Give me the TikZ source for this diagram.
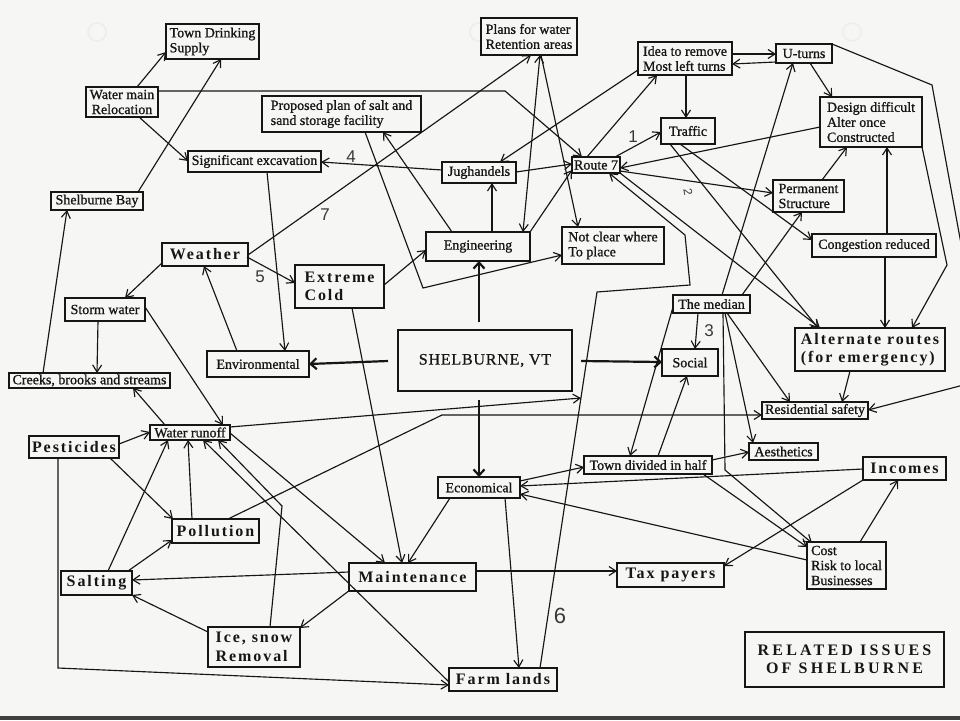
\documentclass[tikz,border=0pt]{standalone}
\usepackage{fontspec}
\setmainfont{Liberation Serif}
\newfontfamily\rfont[FakeBold=1]{Liberation Serif}
\newfontfamily\bsp[LetterSpace=12]{Liberation Serif}
\newfontfamily\bwide[LetterSpace=20]{Liberation Serif}
\newfontfamily\capsp[LetterSpace=5,FakeBold=0.8]{Liberation Serif}
\newfontfamily\hand{Liberation Sans}
\usetikzlibrary{arrows.meta}
\definecolor{ink}{HTML}{161616}
\definecolor{paper}{HTML}{F6F6F4}
\tikzset{
  bx/.style={draw=ink, line width=1.3pt, fill=paper, inner sep=0pt, outer sep=0pt,
    anchor=north west, align=left, text=ink, font=\rfont\fontsize{14}{15}\selectfont},
  bb/.style={bx, font=\bsp\bfseries\fontsize{16}{18.5}\selectfont},
  ln/.style={draw=ink, line width=1.15pt, -{Straight Barb[length=7pt,width=9pt]}},
  lnb/.style={draw=ink, line width=1.15pt, {Straight Barb[length=7pt,width=9pt]}-{Straight Barb[length=7pt,width=9pt]}},
  tk/.style={draw=ink, line width=2.2pt, -{Straight Barb[length=6pt,width=11pt,line width=2.2pt]}},
  hd/.style={text=ink!85, inner sep=0pt, font=\hand\fontsize{17}{17}\selectfont}
}
\begin{document}
\begin{tikzpicture}[x=1pt,y=-1pt]
\useasboundingbox (0,0) rectangle (960,720);
\fill[paper] (0,0) rectangle (960,720);
\fill[black!75] (0,716) rectangle (960,720);
\foreach \c in {(97,32),(479,32),(852,32)} \draw[black!7, line width=1.5pt] \c circle (9);

% nodes
\node[bx, minimum width=93pt, minimum height=35pt] (TD) at (166,24) {Town Drinking\\Supply};
\node[bx, align=center, minimum width=72pt, minimum height=30pt] (WM) at (86,87) {Water main\\Relocation};
\node[bx, minimum width=159pt, minimum height=36pt] (PP) at (262,96) {Proposed plan of salt and\\sand storage facility};
\node[bx, minimum width=133pt, minimum height=21pt] (SE) at (188,151) {Significant excavation};
\node[bx, minimum width=92pt, minimum height=18pt] (SB) at (51,192) {Shelburne Bay};
\node[bx, minimum width=96pt, minimum height=37pt] (PW) at (481,18) {Plans for water\\Retention areas};
\node[bx, minimum width=74pt, minimum height=21pt] (JU) at (442,162) {Jughandels};
\node[bx, minimum width=48pt, minimum height=16pt] (R7) at (572,157) {Route 7};
\node[bx, minimum width=104pt, minimum height=29pt] (EN) at (426,232) {Engineering};
\node[bx, minimum width=102pt, minimum height=37pt] (NC) at (562,227) {Not clear where\\To place};
\node[bx, minimum width=94pt, minimum height=33pt] (ID) at (638,42) {Idea to remove\\Most left turns};
\node[bx, minimum width=56pt, minimum height=19pt] (UT) at (776,44) {U-turns};
\node[bx, minimum width=102pt, minimum height=50pt] (DD) at (820,97) {Design difficult\\Alter once\\Constructed};
\node[bx, minimum width=54pt, minimum height=26pt] (TR) at (661,118) {Traffic};
\node[bx, minimum width=71pt, minimum height=32pt] (PS) at (773,180) {Permanent\\Structure};
\node[bx, minimum width=124pt, minimum height=23pt] (CR) at (812,234) {Congestion reduced};
\node[bx, minimum width=77pt, minimum height=18pt] (ME) at (673,295) {The median};
\node[bx, minimum width=56pt, minimum height=27pt] (SO) at (662,349) {Social};
\node[bb, minimum width=150pt, minimum height=43pt] (AR) at (795,328) {Alternate routes\\(for emergency)};
\node[bx, minimum width=106pt, minimum height=17pt] (RS) at (762,402) {Residential safety};
\node[bx, minimum width=69pt, minimum height=17pt] (AE) at (749,443) {Aesthetics};
\node[bb, minimum width=83pt, minimum height=23pt] (IN) at (863,457) {Incomes};
\node[bx, minimum width=128pt, minimum height=18pt] (TDH) at (584,456) {Town divided in half};
\node[bx, minimum width=79pt, minimum height=47pt] (CO) at (807,542) {Cost\\Risk to local\\Businesses};
\node[bb, minimum width=107pt, minimum height=24pt] (TP) at (617,563) {Tax payers};
\node[bx, align=center, minimum width=199pt, minimum height=55pt, font=\bwide\bfseries\fontsize{16}{18.5}\selectfont] (RI) at (745,632) {RELATED ISSUES\\OF SHELBURNE};
\node[bx, minimum width=82pt, minimum height=21pt] (EC) at (438,477) {Economical};
\node[bb, minimum width=127pt, minimum height=28pt] (MA) at (349,563) {Maintenance};
\node[bb, minimum width=108pt, minimum height=23pt] (FL) at (449,668) {Farm lands};
\node[bb, minimum width=87pt, minimum height=24pt] (PO) at (172,519) {Pollution};
\node[bb, minimum width=71pt, minimum height=24pt] (SA) at (61,571) {Salting};
\node[bb, minimum width=92pt, minimum height=40pt] (IS) at (208,627) {Ice, snow\\Removal};
\node[bx, minimum width=80pt, minimum height=23pt] (ST) at (65,298) {Storm water};
\node[bx, minimum width=161pt, minimum height=15pt] (CB) at (9,373) {Creeks, brooks and streams};
\node[bx, minimum width=102pt, minimum height=26pt] (EV) at (207,351) {Environmental};
\node[bb, minimum width=90pt, minimum height=22pt] (PE) at (29,436) {Pesticides};
\node[bx, minimum width=80pt, minimum height=15pt] (WR) at (150,425) {Water runoff};
\node[bb, minimum width=86pt, minimum height=23pt] (WE) at (162,243) {Weather};
\node[bb, minimum width=89pt, minimum height=43pt] (XC) at (295,265) {Extreme\\Cold};
\node[bx, align=center, minimum width=174pt, minimum height=61pt, font=\capsp\fontsize{16}{18}\selectfont] (SH) at (398,330) {SHELBURNE, VT};
\coordinate (J) at (581,398);

% connectors
\draw[ln] ([shift={(51,0)}]WM.north west) -- ([shift={(0,28)}]TD.north west);
\draw[ln] ([shift={(87,0)}]SB.north west) -- ([shift={(55,35)}]TD.north west);
\draw[ln] ([shift={(53,30)}]WM.north west) -- ([shift={(0,10)}]SE.north west);
\draw[ln] ([shift={(72,4)}]WM.north west) -- (505,91) -- ([shift={(10,0)}]R7.north west);
\draw[ln] ([shift={(0,8)}]JU.north west) -- ([shift={(133,11)}]SE.north west);
\draw[ln] ([shift={(79,21)}]SE.north west) -- ([shift={(78,0)}]EV.north west);
\draw[ln] ([shift={(86,12)}]WE.north west) -- ([shift={(50,37)}]PW.north west);
\draw[ln] ([shift={(103,36)}]PP.north west) -- (423,288) -- ([shift={(0,28)}]NC.north west);
\draw[ln] ([shift={(26,0)}]EN.north west) -- ([shift={(121,36)}]PP.north west);
\draw[ln] ([shift={(66,0)}]EN.north west) -- ([shift={(50,21)}]JU.north west);
\draw[ln] (EN.north east) -- ([shift={(0,13)}]R7.north west);
\draw[lnb] ([shift={(59,37)}]PW.north west) -- ([shift={(97,0)}]EN.north west);
\draw[ln] ([shift={(60,37)}]PW.north west) -- ([shift={(16,0)}]NC.north west);
\draw[ln] ([shift={(0,28)}]ID.north west) -- ([shift={(58,0)}]JU.north west);
\draw[ln] ([shift={(15,0)}]R7.north west) -- ([shift={(19,33)}]ID.north west);
\draw[ln] ([shift={(74,10)}]JU.north west) -- ([shift={(0,7)}]R7.north west);
\draw[ln] ([shift={(43,0)}]R7.north west) -- ([shift={(0,14)}]TR.north west);
\draw[ln] ([shift={(48,33)}]ID.north west) -- ([shift={(25,0)}]TR.north west);
\draw[ln] ([shift={(94,12)}]ID.north west) -- ([shift={(0,10)}]UT.north west);
\draw[ln] ([shift={(0,18)}]UT.north west) -- ([shift={(94,22)}]ID.north west);
\draw[ln] ([shift={(34,19)}]UT.north west) -- ([shift={(12,0)}]DD.north west);
\draw[ln] (UT.north east) -- (932,85) -- (968,282) -- (975,382) -- ([shift={(106,8)}]RS.north west);
\draw[ln] ([shift={(0,30)}]DD.north west) -- ([shift={(48,11)}]R7.north west);
\draw[ln] ([shift={(48,14)}]R7.north west) -- ([shift={(0,13)}]PS.north west);
\draw[ln] ([shift={(49,0)}]PS.north west) -- ([shift={(27,50)}]DD.north west);
\draw[ln] ([shift={(75,0)}]CR.north west) -- ([shift={(67,50)}]DD.north west);
\draw[ln] ([shift={(19,26)}]TR.north west) -- ([shift={(0,6)}]CR.north west);
\draw[ln] ([shift={(9,26)}]TR.north west) -- ([shift={(23,0)}]AR.north west);
\draw[ln] (R7.south east) -- ([shift={(25,0)}]AR.north west);
\draw[ln] ([shift={(91,0)}]FL.north west) -- (597,292) -- (690,285) -- (685,235) -- ([shift={(37,16)}]R7.north west);
\draw[ln] ([shift={(69,0)}]ME.north west) -- ([shift={(29,32)}]PS.north west);
\draw[ln] ([shift={(49,0)}]ME.north west) -- ([shift={(17,19)}]UT.north west);
\draw[ln] ([shift={(25,18)}]ME.north west) -- ([shift={(33,0)}]SO.north west);
\draw[tk] ([shift={(183,31)}]SH.north west) -- ([shift={(0,13)}]SO.north west);
\draw[tk] ([shift={(-10,31)}]SH.north west) -- ([shift={(102,13)}]EV.north west);
\draw[tk] ([shift={(81,-8)}]SH.north west) -- ([shift={(53,29)}]EN.north west);
\draw[tk] ([shift={(81,70)}]SH.north west) -- ([shift={(41,0)}]EC.north west);
\draw[ln] ([shift={(0,12)}]ME.north west) -- ([shift={(46,0)}]TDH.north west);
\draw[ln] ([shift={(74,0)}]TDH.north west) -- ([shift={(25,27)}]SO.north west);
\draw[ln] ([shift={(54,18)}]ME.north west) -- ([shift={(28,0)}]RS.north west);
\draw[ln] ([shift={(52,18)}]ME.north west) -- ([shift={(4,0)}]AE.north west);
\draw[ln] ([shift={(50,18)}]ME.north west) -- (725,470) -- ([shift={(5,1)}]CO.north west);
\draw[ln] ([shift={(128,4)}]TDH.north west) -- ([shift={(0,9)}]AE.north west);
\draw[ln] ([shift={(119,18)}]TDH.north west) -- ([shift={(0,5)}]CO.north west);
\draw[ln] ([shift={(82,4)}]EC.north west) -- ([shift={(0,11)}]TDH.north west);
\draw[ln] ([shift={(0,12)}]IN.north west) -- ([shift={(82,9)}]EC.north west);
\draw[ln] ([shift={(0,18)}]CO.north west) -- ([shift={(82,17)}]EC.north west);
\draw[ln] ([shift={(0,23)}]IN.north west) -- ([shift={(107,3)}]TP.north west);
\draw[ln] ([shift={(53,0)}]CO.north west) -- ([shift={(35,23)}]IN.north west);
\draw[ln] ([shift={(127,8)}]MA.north west) -- ([shift={(0,8)}]TP.north west);
\draw[ln] ([shift={(0,9)}]MA.north west) -- ([shift={(71,9)}]SA.north west);
\draw[ln] ([shift={(0,5)}]IS.north west) -- (SA.south east);
\draw[ln] ([shift={(1,27)}]MA.north west) -- ([shift={(92,1)}]IS.north west);
\draw[ln] ([shift={(67,0)}]SA.north west) -- ([shift={(0,21)}]PO.north west);
\draw[ln] ([shift={(47,0)}]SA.north west) -- ([shift={(18,15)}]WR.north west);
\draw[ln] ([shift={(20,0)}]PO.north west) -- ([shift={(38,15)}]WR.north west);
\draw[ln] ([shift={(90,8)}]PE.north west) -- ([shift={(0,7)}]WR.north west);
\draw[ln] ([shift={(81,22)}]PE.north west) -- ([shift={(1,0)}]PO.north west);
\draw[ln] ([shift={(29,22)}]PE.north west) -- (58,668) -- ([shift={(0,17)}]FL.north west);
\draw[ln] ([shift={(15,0)}]WR.north west) -- ([shift={(124,15)}]CB.north west);
\draw[ln] ([shift={(33,23)}]ST.north west) -- ([shift={(88,0)}]CB.north west);
\draw[ln] ([shift={(80,9)}]ST.north west) -- ([shift={(73,0)}]WR.north west);
\draw[ln] ([shift={(0,20)}]WE.north west) -- ([shift={(60,0)}]ST.north west);
\draw[ln] ([shift={(34,0)}]CB.north west) -- ([shift={(16,18)}]SB.north west);
\draw[ln] ([shift={(30,0)}]EV.north west) -- ([shift={(42,23)}]WE.north west);
\draw[ln] ([shift={(85,14)}]WE.north west) -- ([shift={(0,18)}]XC.north west);
\draw[ln] ([shift={(89,20)}]XC.north west) -- ([shift={(0,18)}]EN.north west);
\draw[ln] ([shift={(57,43)}]XC.north west) -- ([shift={(53,0)}]MA.north west);
\draw[ln] ([shift={(12,21)}]EC.north west) -- ([shift={(59,0)}]MA.north west);
\draw[ln] ([shift={(80,8)}]WR.north west) -- ([shift={(36,0)}]MA.north west);
\draw[ln] ([shift={(80,2)}]WR.north west) -- (J);
\draw[ln] ([shift={(56,0)}]PO.north west) -- (442,415) -- ([shift={(0,13)}]RS.north west);
\draw[ln] ([shift={(0,14)}]FL.north west) -- ([shift={(53,15)}]WR.north west);
\draw[ln] ([shift={(62,0)}]IS.north west) -- (282,506) -- ([shift={(68,15)}]WR.north west);
\draw[ln] ([shift={(67,21)}]EC.north west) -- ([shift={(70,0)}]FL.north west);
\draw[ln] (DD.south east) -- (947,265) -- ([shift={(117,0)}]AR.north west);
\draw[ln] ([shift={(73,23)}]CR.north west) -- ([shift={(90,0)}]AR.north west);
\draw[ln] ([shift={(55,43)}]AR.north west) -- ([shift={(80,0)}]RS.north west);

% handwritten numbers
\node[hd] (L1) at (633,137) {1};
\node[hd, font=\hand\fontsize{12}{12}\selectfont, rotate=-80] (L2) at (688,192) {2};
\node[hd] (L3) at (709,331) {3};
\node[hd] (L4) at (351,157) {4};
\node[hd] (L5) at (260,277) {5};
\node[hd, font=\hand\fontsize{22}{22}\selectfont] (L6) at (560,616) {6};
\node[hd] (L7) at (325,215) {7};
\end{tikzpicture}
\end{document}
